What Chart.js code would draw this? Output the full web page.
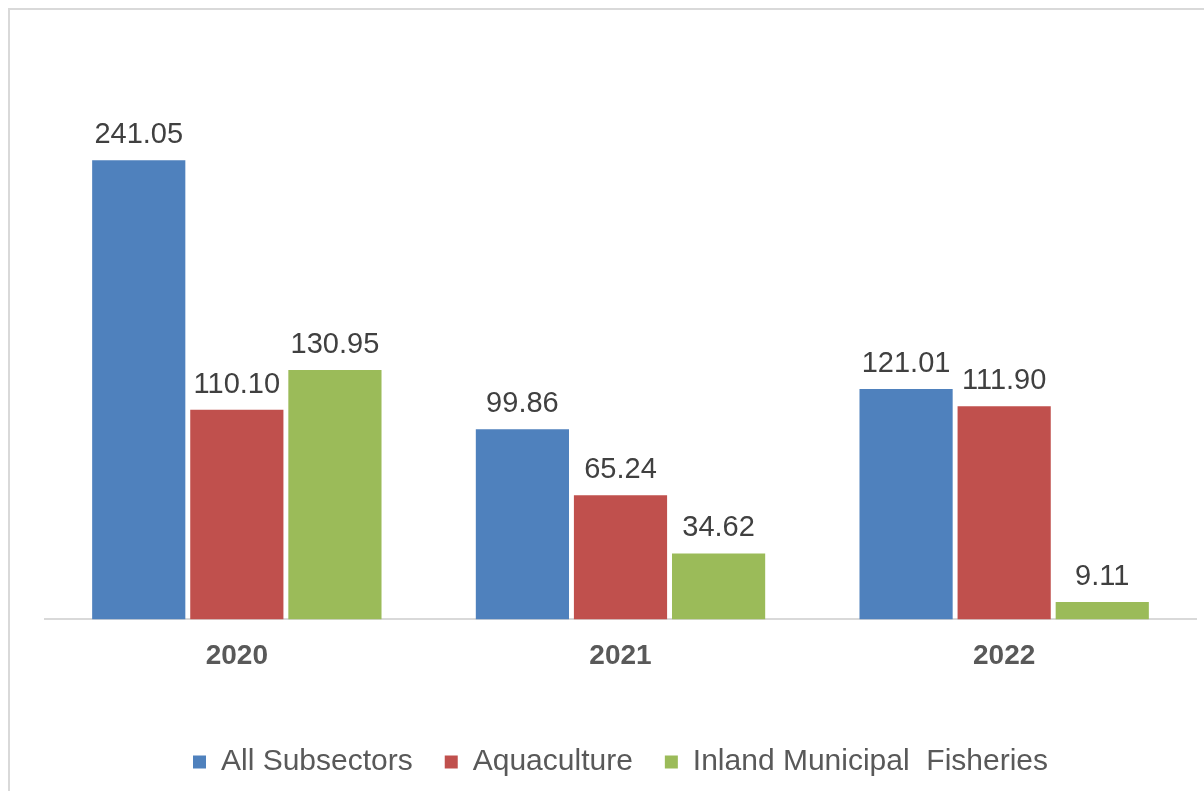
<!DOCTYPE html>
<html>
<head>
<meta charset="utf-8">
<script src="https://cdn.jsdelivr.net/npm/chart.js@4.4.1/dist/chart.umd.min.js"></script>
<style>
  html, body { margin: 0; padding: 0; background: #fff; }
  #wrap { width: 1204px; height: 791px; }
</style>
</head>
<body>
<div id="wrap"><canvas id="myChart" width="1204" height="791"></canvas></div>
<script>
// Years on the x axis
const years = ['2020', '2021', '2022'];

// Values per subsector
const allSubsectors = [241.05, 99.86, 121.01];
const aquaculture = [110.10, 65.24, 111.90];
const inlandMunicipal = [130.95, 34.62, 9.11];

const FONT = '"Liberation Sans", Arial, sans-serif';

// Light grey frame around the plot (top and left edges)
const framePlugin = {
    id: 'frame',
    beforeDraw(chart) {
        const ctx = chart.ctx;
        ctx.save();
        ctx.strokeStyle = '#d9d9d9';
        ctx.lineWidth = 2;
        ctx.beginPath();
        ctx.moveTo(9, 800);
        ctx.lineTo(9, 9);
        ctx.lineTo(1210, 9);
        ctx.stroke();
        ctx.restore();
    }
};

// Value labels above each bar
const valueLabels = {
    id: 'valueLabels',
    afterDatasetsDraw(chart) {
        const ctx = chart.ctx;
        ctx.save();
        ctx.font = '29px ' + FONT;
        ctx.fillStyle = '#404040';
        ctx.textAlign = 'center';
        ctx.textBaseline = 'alphabetic';
        chart.data.datasets.forEach((ds, i) => {
            chart.getDatasetMeta(i).data.forEach((bar, j) => {
                ctx.fillText(ds.data[j].toFixed(2), bar.x, bar.y - 17);
            });
        });
        ctx.restore();
    }
};

const data = {
    labels: years,
    datasets: [
        { label: 'All Subsectors', data: allSubsectors, backgroundColor: '#4f81bd' },
        { label: 'Aquaculture', data: aquaculture, backgroundColor: '#c0504d' },
        { label: 'Inland Municipal  Fisheries', data: inlandMunicipal, backgroundColor: '#9bbb59' }
    ]
};

const config = {
    type: 'bar',
    data: data,
    options: {
        responsive: false,
        animation: false,
        categoryPercentage: 0.767,
        barPercentage: 0.95,
        layout: { padding: { top: 48, left: 45, right: 8, bottom: 4 } },
        plugins: {
            tooltip: { enabled: false },
            legend: {
                position: 'bottom',
                labels: {
                    boxWidth: 13,
                    boxHeight: 13,
                    padding: 32,
                    color: '#595959',
                    font: { family: FONT, size: 30 }
                }
            }
        },
        scales: {
            x: {
                grid: { display: false, drawTicks: false },
                border: { color: '#d9d9d9', width: 2 },
                ticks: {
                    padding: 20,
                    color: '#595959',
                    font: { family: FONT, size: 28, weight: 'bold' }
                },
                // leave room between the year labels and the legend
                afterFit(scale) {
                    scale.height += 22;
                }
            },
            y: {
                display: false,
                min: 0,
                max: 300
            }
        }
    },
    plugins: [framePlugin, valueLabels]
};

const myChart = new Chart(document.getElementById('myChart'), config);
</script>
</body>
</html>
